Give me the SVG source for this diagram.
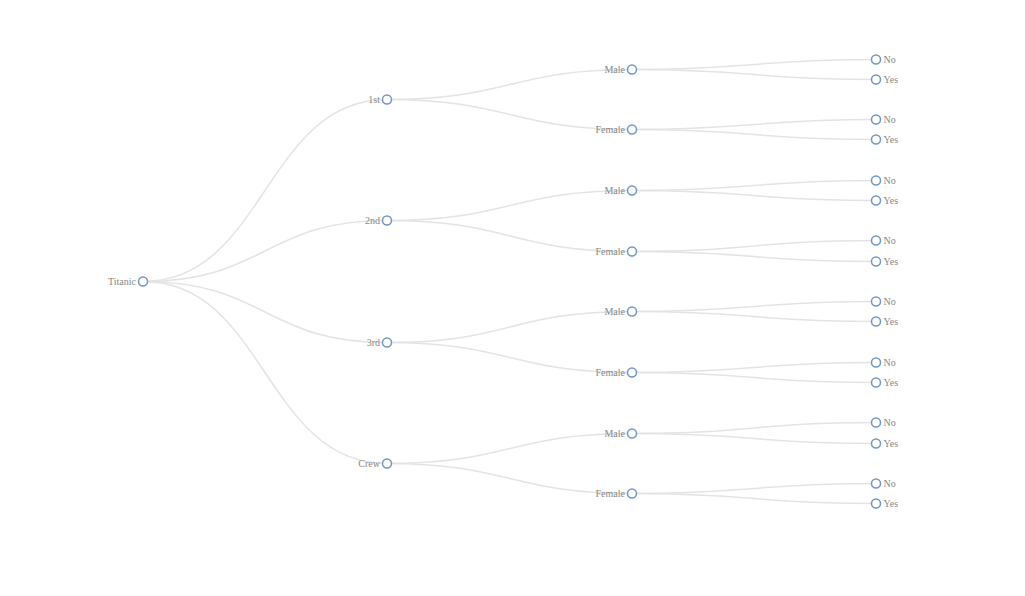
<svg xmlns="http://www.w3.org/2000/svg" width="1025" height="596" viewBox="0 0 1025 596">
<style>
.link{fill:none;stroke:#e3e3e3;stroke-width:1.5}
.node circle{fill:#fff;stroke:#7096c4;stroke-width:1.5}
.node text{font-family:"Liberation Serif",serif;font-size:10px;fill:#888}
.l text{text-anchor:end}
.r text{text-anchor:start}
</style>
<rect width="1025" height="596" fill="#fff"/>
<g transform="translate(0,0.5)">
<g id="links">
<path class="link" d="M143,281C265,281 265,99 387,99"/>
<path class="link" d="M143,281C265,281 265,220 387,220"/>
<path class="link" d="M143,281C265,281 265,342 387,342"/>
<path class="link" d="M143,281C265,281 265,463 387,463"/>
<path class="link" d="M387,99C510,99 510,69 632,69"/>
<path class="link" d="M387,99C510,99 510,129 632,129"/>
<path class="link" d="M387,220C510,220 510,190 632,190"/>
<path class="link" d="M387,220C510,220 510,251 632,251"/>
<path class="link" d="M387,342C510,342 510,311 632,311"/>
<path class="link" d="M387,342C510,342 510,372 632,372"/>
<path class="link" d="M387,463C510,463 510,433 632,433"/>
<path class="link" d="M387,463C510,463 510,493 632,493"/>
<path class="link" d="M632,69C754,69 754,59 876,59"/>
<path class="link" d="M632,69C754,69 754,79 876,79"/>
<path class="link" d="M632,129C754,129 754,119 876,119"/>
<path class="link" d="M632,129C754,129 754,139 876,139"/>
<path class="link" d="M632,190C754,190 754,180 876,180"/>
<path class="link" d="M632,190C754,190 754,200 876,200"/>
<path class="link" d="M632,251C754,251 754,240 876,240"/>
<path class="link" d="M632,251C754,251 754,261 876,261"/>
<path class="link" d="M632,311C754,311 754,301 876,301"/>
<path class="link" d="M632,311C754,311 754,321 876,321"/>
<path class="link" d="M632,372C754,372 754,362 876,362"/>
<path class="link" d="M632,372C754,372 754,382 876,382"/>
<path class="link" d="M632,433C754,433 754,422 876,422"/>
<path class="link" d="M632,433C754,433 754,443 876,443"/>
<path class="link" d="M632,493C754,493 754,483 876,483"/>
<path class="link" d="M632,493C754,493 754,503 876,503"/>
</g>
<g id="n-titanic" class="node l" transform="translate(143,281)"><circle r="4.5"/><text x="-7" y="3">Titanic</text></g>
<g id="n-1st" class="node l" transform="translate(387,99)"><circle r="4.5"/><text x="-7" y="3">1st</text></g>
<g id="n-2nd" class="node l" transform="translate(387,220)"><circle r="4.5"/><text x="-7" y="3">2nd</text></g>
<g id="n-3rd" class="node l" transform="translate(387,342)"><circle r="4.5"/><text x="-7" y="3">3rd</text></g>
<g id="n-crew" class="node l" transform="translate(387,463)"><circle r="4.5"/><text x="-7" y="3">Crew</text></g>
<g id="n-1st-male" class="node l" transform="translate(632,69)"><circle r="4.5"/><text x="-7" y="3">Male</text></g>
<g id="n-1st-female" class="node l" transform="translate(632,129)"><circle r="4.5"/><text x="-7" y="3">Female</text></g>
<g id="n-2nd-male" class="node l" transform="translate(632,190)"><circle r="4.5"/><text x="-7" y="3">Male</text></g>
<g id="n-2nd-female" class="node l" transform="translate(632,251)"><circle r="4.5"/><text x="-7" y="3">Female</text></g>
<g id="n-3rd-male" class="node l" transform="translate(632,311)"><circle r="4.5"/><text x="-7" y="3">Male</text></g>
<g id="n-3rd-female" class="node l" transform="translate(632,372)"><circle r="4.5"/><text x="-7" y="3">Female</text></g>
<g id="n-crew-male" class="node l" transform="translate(632,433)"><circle r="4.5"/><text x="-7" y="3">Male</text></g>
<g id="n-crew-female" class="node l" transform="translate(632,493)"><circle r="4.5"/><text x="-7" y="3">Female</text></g>
<g id="n-1m-no" class="node r" transform="translate(876,59)"><circle r="4.5"/><text x="7.5" y="3">No</text></g>
<g id="n-1m-yes" class="node r" transform="translate(876,79)"><circle r="4.5"/><text x="7.5" y="3">Yes</text></g>
<g id="n-1f-no" class="node r" transform="translate(876,119)"><circle r="4.5"/><text x="7.5" y="3">No</text></g>
<g id="n-1f-yes" class="node r" transform="translate(876,139)"><circle r="4.5"/><text x="7.5" y="3">Yes</text></g>
<g id="n-2m-no" class="node r" transform="translate(876,180)"><circle r="4.5"/><text x="7.5" y="3">No</text></g>
<g id="n-2m-yes" class="node r" transform="translate(876,200)"><circle r="4.5"/><text x="7.5" y="3">Yes</text></g>
<g id="n-2f-no" class="node r" transform="translate(876,240)"><circle r="4.5"/><text x="7.5" y="3">No</text></g>
<g id="n-2f-yes" class="node r" transform="translate(876,261)"><circle r="4.5"/><text x="7.5" y="3">Yes</text></g>
<g id="n-3m-no" class="node r" transform="translate(876,301)"><circle r="4.5"/><text x="7.5" y="3">No</text></g>
<g id="n-3m-yes" class="node r" transform="translate(876,321)"><circle r="4.5"/><text x="7.5" y="3">Yes</text></g>
<g id="n-3f-no" class="node r" transform="translate(876,362)"><circle r="4.5"/><text x="7.5" y="3">No</text></g>
<g id="n-3f-yes" class="node r" transform="translate(876,382)"><circle r="4.5"/><text x="7.5" y="3">Yes</text></g>
<g id="n-cm-no" class="node r" transform="translate(876,422)"><circle r="4.5"/><text x="7.5" y="3">No</text></g>
<g id="n-cm-yes" class="node r" transform="translate(876,443)"><circle r="4.5"/><text x="7.5" y="3">Yes</text></g>
<g id="n-cf-no" class="node r" transform="translate(876,483)"><circle r="4.5"/><text x="7.5" y="3">No</text></g>
<g id="n-cf-yes" class="node r" transform="translate(876,503)"><circle r="4.5"/><text x="7.5" y="3">Yes</text></g>
</g>
</svg>
